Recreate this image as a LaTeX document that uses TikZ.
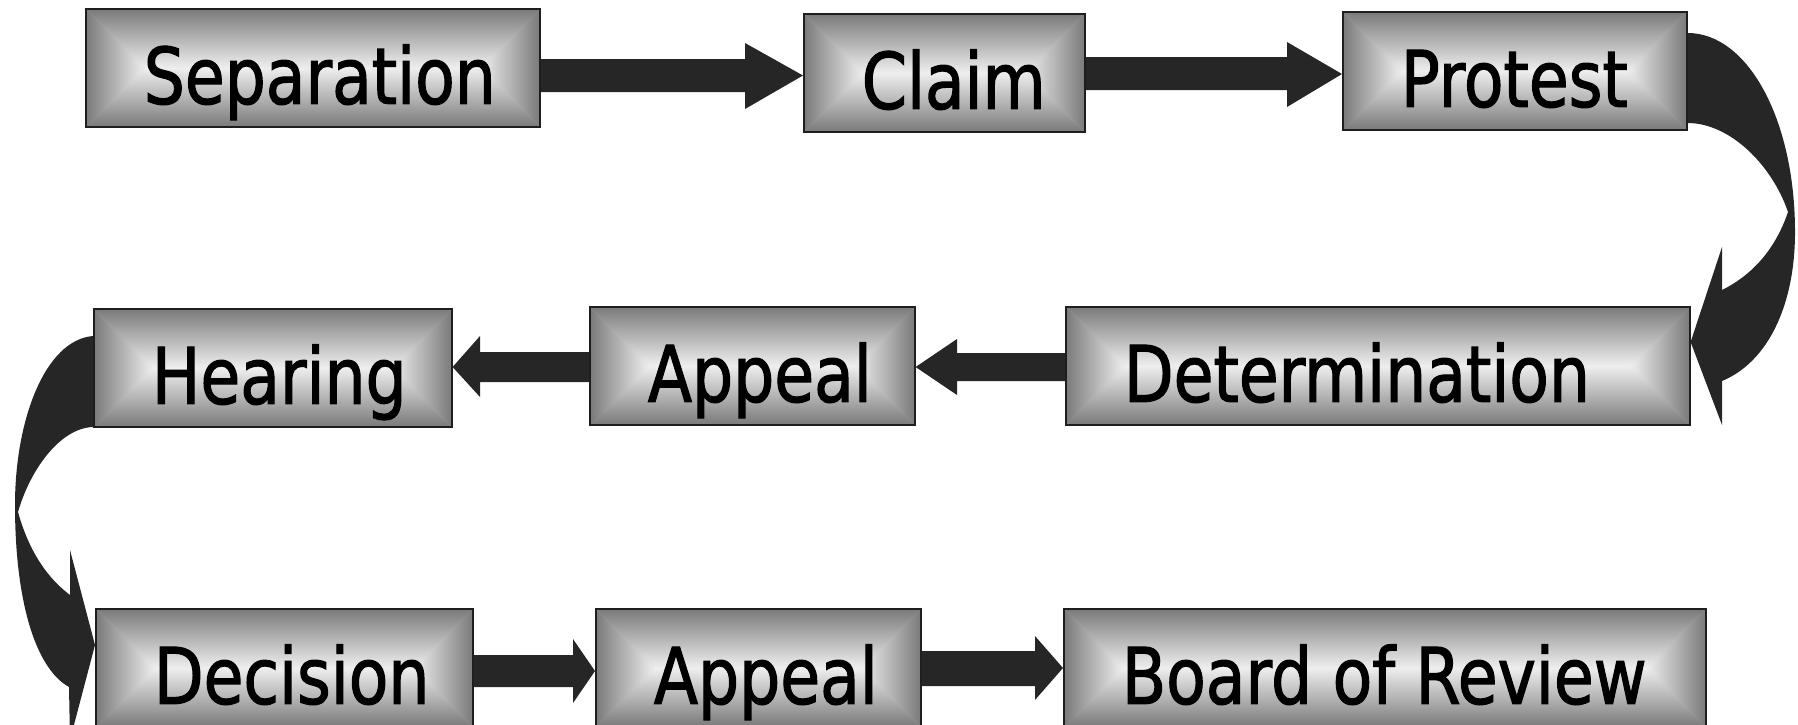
\documentclass[tikz,border=0pt]{standalone}
\usepackage{fontspec}
\newfontfamily\boxfont[FakeStretch=0.83,FakeBold=1.5]{DejaVu Sans}
\usetikzlibrary{calc,backgrounds}
\definecolor{boxdark}{RGB}{122,122,122}
\definecolor{boxmid}{RGB}{190,190,190}
\definecolor{boxlight}{RGB}{238,238,238}
\definecolor{arrowc}{RGB}{38,38,38}
\definecolor{edgec}{RGB}{30,30,30}
\tikzset{
  stepbox/.style={draw=edgec, line width=0.8pt, fill=boxmid, anchor=north west,
    inner xsep=29pt, inner ysep=0pt, text height=47.5pt, text depth=11.5pt,
    font=\boxfont\fontsize{39}{39}\selectfont,
    path picture={
      \coordinate (pnw) at (path picture bounding box.north west);
      \coordinate (pne) at (path picture bounding box.north east);
      \coordinate (psw) at (path picture bounding box.south west);
      \coordinate (pse) at (path picture bounding box.south east);
      \path[top color=boxdark,bottom color=boxlight] (pnw) -- (pne) -- ([xshift=-29.5pt,yshift=-29.5pt]pne) -- ([xshift=29.5pt,yshift=-29.5pt]pnw) -- cycle;
      \path[bottom color=boxdark,top color=boxlight] (psw) -- (pse) -- ([xshift=-29.5pt,yshift=29.5pt]pse) -- ([xshift=29.5pt,yshift=29.5pt]psw) -- cycle;
      \path[left color=boxdark,right color=boxlight] (pnw) -- (psw) -- ([xshift=29.5pt,yshift=29.5pt]psw) -- ([xshift=29.5pt,yshift=-29.5pt]pnw) -- cycle;
      \path[right color=boxdark,left color=boxlight] (pne) -- (pse) -- ([xshift=-29.5pt,yshift=29.5pt]pse) -- ([xshift=-29.5pt,yshift=-29.5pt]pne) -- cycle;
    }},
  arrowfill/.style={fill=arrowc}
}
\begin{document}
\begin{tikzpicture}[x=0.5pt,y=-0.5pt]
\useasboundingbox (0,0) rectangle (1798,724);
% boxes
\node[stepbox] (sep) at (85,8) {\makebox[169pt][l]{Separation}};
\node[stepbox] (claim) at (803,13) {\makebox[82.5pt][l]{Claim}};
\node[stepbox] (protest) at (1342,11) {\makebox[114pt][l]{Protest}};
\node[stepbox] (hearing) at (93,308) {\makebox[121pt][l]{Hearing}};
\node[stepbox] (appeal1) at (589,306) {\makebox[104.5pt][l]{Appeal}};
\node[stepbox] (determ) at (1065,306) {\makebox[254pt][l]{Determination}};
\node[stepbox] (decision) at (95,608) {\makebox[130.5pt][l]{Decision}};
\node[stepbox] (appeal2) at (595,608) {\makebox[104.5pt][l]{Appeal}};
\node[stepbox] (board) at (1063,608) {\makebox[263pt][l]{Board of Review}};
\begin{pgfonlayer}{background}
% straight block arrows
\fill[arrowfill] (sep.east |- 0,59) -- (745,59) -- (745,43) -- (claim.west |- 0,75.5) -- (745,109) -- (745,92) -- (sep.east |- 0,92) -- cycle;
\fill[arrowfill] (claim.east |- 0,57) -- (1287,57) -- (1287,42) -- (protest.west |- 0,74) -- (1287,107) -- (1287,90) -- (claim.east |- 0,90) -- cycle;
\fill[arrowfill] (determ.west |- 0,353) -- (957,353) -- (957,339) -- (appeal1.east |- 0,367) -- (957,395) -- (957,381) -- (determ.west |- 0,381) -- cycle;
\fill[arrowfill] (appeal1.west |- 0,352) -- (480,352) -- (480,336) -- (hearing.east |- 0,367) -- (480,397) -- (480,382) -- (appeal1.west |- 0,382) -- cycle;
\fill[arrowfill] (decision.east |- 0,655) -- (573,655) -- (573,639) -- (appeal2.west |- 0,671) -- (573,703) -- (573,687) -- (decision.east |- 0,687) -- cycle;
\fill[arrowfill] (appeal2.east |- 0,651) -- (1035,651) -- (1035,636) -- (board.west |- 0,668) -- (1035,700) -- (1035,686) -- (appeal2.east |- 0,686) -- cycle;
% curved arrows
\fill[arrowfill] (protest.east |- 0,33) .. controls (1748,33) and (1795,120) .. (1795,232)
  .. controls (1795,305) and (1768,362) .. (1722,381) -- (1722,425) -- (determ.east |- 0,342)
  -- (1722,247) -- (1722,290) .. controls (1752,275) and (1775,250) .. (1788,212)
  .. controls (1772,165) and (1730,123) .. (protest.east |- 0,123) -- cycle;
\fill[arrowfill] (hearing.west |- 0,336) .. controls (45,340) and (15,420) .. (15,505)
  .. controls (15,600) and (35,668) .. (69,687) -- (70,740) -- (decision.west |- 0,645)
  -- (70,550) -- (70,595) .. controls (50,580) and (30,555) .. (18,512)
  .. controls (30,470) and (60,428) .. (hearing.west |- 0,427) -- cycle;
\end{pgfonlayer}
\end{tikzpicture}
\end{document}
